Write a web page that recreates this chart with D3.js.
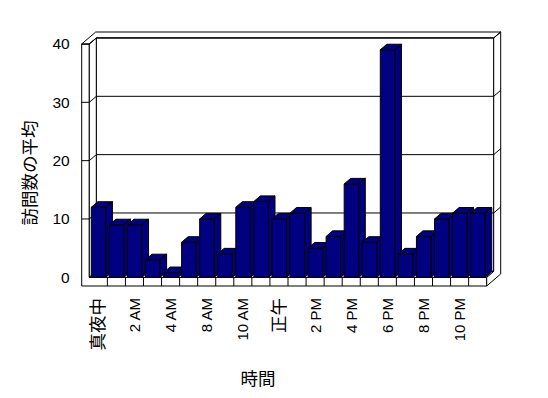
<!DOCTYPE html>
<html>
<head>
<meta charset="utf-8">
<script src="https://cdn.jsdelivr.net/npm/d3@7"></script>
<style>
  body { margin: 0; background: #fff; }
  svg { display: block; }
</style>
</head>
<body>
<svg id="chart" width="548" height="398"></svg>
<script>
// time-of-day categories (hours 6 and 7 AM are absent from the data)
const categories = ["真夜中", "1 AM", "2 AM", "3 AM", "4 AM", "5 AM", "8 AM", "9 AM", "10 AM", "11 AM",
  "正午", "1 PM", "2 PM", "3 PM", "4 PM", "5 PM", "6 PM", "7 PM", "8 PM", "9 PM", "10 PM", "11 PM"];
const visits = [12, 9, 9, 3, 0.8, 6, 10, 4, 12, 13, 10, 11, 5, 7, 16, 6, 39, 4, 7, 10, 11, 11];
const yTicks = [0, 10, 20, 30, 40];
const yTitle = "訪問数の平均";
const xTitle = "時間";

const svg = d3.select("#chart");

// plot box (front plane) and oblique depth
const pLeft = 89.3, pRight = 486.7, pBottom = 277.3, pTop = 44;
const wall = 7.6, floorH = 8.7;
const DX = 7, DY = -6;          // one depth unit
const barDX = 6.5, barDY = -5.6;

const x = d3.scaleBand().domain(categories).range([pLeft, pRight]).padding(0);
const y = d3.scaleLinear().domain([0, 40]).range([pBottom, pTop]);

const line = d3.line();
const poly = (pts) => line(pts) + "Z";

const box = svg.append("g")
  .attr("fill", "#fff")
  .attr("stroke", "#000")
  .attr("stroke-width", 1);

// left wall front + floor front (L shape)
box.append("path").attr("d", poly([
  [pLeft - wall, pTop], [pLeft, pTop], [pLeft, pBottom], [pRight, pBottom],
  [pRight, pBottom + floorH], [pLeft - wall, pBottom + floorH]
]));

// top of walls
box.append("path").attr("d", poly([
  [pLeft - wall, pTop], [pLeft - wall + 2 * DX, pTop + 2 * DY], [pRight + 2 * DX, pTop + 2 * DY],
  [pRight + DX, pTop + DY], [pLeft + DX, pTop + DY], [pLeft, pTop]
]));

// back wall face
box.append("path").attr("d", poly([
  [pLeft + DX, pTop + DY], [pRight + DX, pTop + DY], [pRight + DX, pBottom + DY], [pLeft + DX, pBottom + DY]
]));

// left wall inner face
box.append("path").attr("d", poly([
  [pLeft, pTop], [pLeft + DX, pTop + DY], [pLeft + DX, pBottom + DY], [pLeft, pBottom]
]));

// right side of back wall and floor
box.append("path").attr("d", poly([
  [pRight, pBottom], [pRight, pBottom + floorH], [pRight + 2 * DX, pBottom + floorH + 2 * DY],
  [pRight + 2 * DX, pTop + 2 * DY], [pRight + DX, pTop + DY], [pRight + DX, pBottom + DY]
]));

// floor top
box.append("path").attr("d", poly([
  [pLeft, pBottom], [pRight, pBottom], [pRight + DX, pBottom + DY], [pLeft + DX, pBottom + DY]
]));

// floor front dividers
box.selectAll("line.div")
  .data(categories.slice(1))
  .join("line")
  .attr("class", "div")
  .attr("x1", (d) => x(d)).attr("x2", (d) => x(d))
  .attr("y1", pBottom).attr("y2", pBottom + floorH);

// gridlines wrapping the walls
box.selectAll("path.grid")
  .data(yTicks.filter((t) => t > 0))
  .join("path")
  .attr("class", "grid")
  .attr("fill", "none")
  .attr("d", (t) => line([
    [pLeft - wall, y(t)], [pLeft, y(t)], [pLeft + DX, y(t) + DY],
    [pRight + DX, y(t) + DY], [pRight + 2 * DX, y(t) + 2 * DY]
  ]));

// bars
const bw = x.step() * 0.81;
const off = x.step() * 0.11;
const bars = svg.append("g")
  .attr("fill", "#000080")
  .attr("stroke", "#000")
  .attr("stroke-width", 1)
  .selectAll("g")
  .data(categories.map((c, i) => ({ cat: c, v: visits[i] })))
  .join("g");

bars.append("path").attr("d", (d) => {
  const x0 = x(d.cat) + off, x1 = x0 + bw, yt = y(d.v);
  return poly([[x0, yt], [x1, yt], [x1, pBottom], [x0, pBottom]]);
});
bars.append("path").attr("d", (d) => {
  const x0 = x(d.cat) + off, x1 = x0 + bw, yt = y(d.v);
  return poly([[x0, yt], [x1, yt], [x1 + barDX, yt + barDY], [x0 + barDX, yt + barDY]]);
});
bars.append("path").attr("d", (d) => {
  const x1 = x(d.cat) + off + bw, yt = y(d.v);
  return poly([[x1, yt], [x1 + barDX, yt + barDY], [x1 + barDX, pBottom + barDY], [x1, pBottom]]);
});

// y axis labels
const yAxis = svg.append("g")
  .attr("transform", `translate(${pLeft - wall},0)`)
  .call(d3.axisLeft(y).tickValues(yTicks).tickSize(0).tickPadding(12));
yAxis.select(".domain").remove();
yAxis.selectAll("text")
  .attr("font-family", "'Liberation Sans', Arial, sans-serif")
  .attr("font-size", 15.5)
  .attr("fill", "#000");

// x labels, every other category
const isCJK = (s) => /[^\x00-\x7f]/.test(s);
svg.append("g")
  .selectAll("text")
  .data(categories.filter((c, i) => i % 2 === 0))
  .join("text")
  .attr("transform", (d) => `translate(${x(d) + x.bandwidth() / 2},298) rotate(-90)`)
  .attr("text-anchor", "end")
  .attr("dominant-baseline", "central")
  .attr("font-family", "'Liberation Sans', 'Noto Sans CJK JP', sans-serif")
  .attr("font-size", (d) => (isCJK(d) ? 17.5 : 15))
  .text((d) => d);

// axis titles
svg.append("text")
  .attr("transform", "translate(28,173) rotate(-90)")
  .attr("text-anchor", "middle")
  .attr("dominant-baseline", "central")
  .attr("font-family", "'Noto Sans CJK JP', sans-serif")
  .attr("font-size", 17.5)
  .text(yTitle);

svg.append("text")
  .attr("x", 258)
  .attr("y", 377)
  .attr("text-anchor", "middle")
  .attr("dominant-baseline", "central")
  .attr("font-family", "'Noto Sans CJK JP', sans-serif")
  .attr("font-size", 17.5)
  .text(xTitle);
</script>
</body>
</html>
